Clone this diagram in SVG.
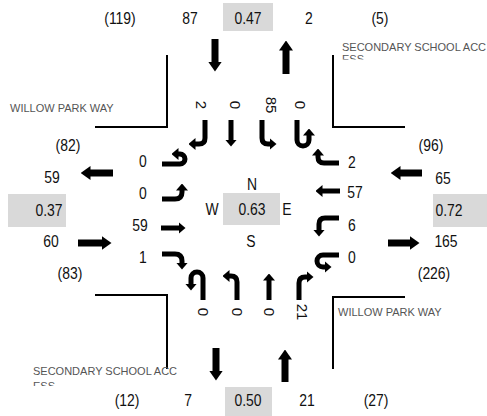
<svg xmlns="http://www.w3.org/2000/svg" width="487" height="416" viewBox="0 0 487 416">
<style>
text{font-family:"Liberation Sans",Arial,sans-serif;fill:#111}
.n{font-size:16px;text-anchor:middle;transform-box:fill-box;transform-origin:center;transform:scaleX(0.87)}
.r{font-size:15px;text-anchor:middle}
.st{font-size:11px;fill:#555}
.box{fill:#d9d9d9}
.big{fill:none;stroke:#000;stroke-width:7;marker-end:url(#bh)}
.sm{fill:none;stroke:#000;stroke-width:5;marker-end:url(#sh)}
.ln{fill:none;stroke:#000;stroke-width:2}
</style>
<defs>
<marker id="bh" markerUnits="userSpaceOnUse" viewBox="0 0 10 14" markerWidth="10" markerHeight="14" refX="0.5" refY="7" orient="auto"><path d="M0,0 L10,7 L0,14 z"/></marker>
<marker id="sh" markerUnits="userSpaceOnUse" viewBox="0 0 7 12" markerWidth="7" markerHeight="12" refX="0.5" refY="6" orient="auto"><path d="M0,0 L7,6 L0,12 z"/></marker>
<clipPath id="c1"><rect x="330" y="30" width="157" height="29.5"/></clipPath>
<clipPath id="c2"><rect x="20" y="355" width="200" height="31"/></clipPath>
</defs>

<g id="corners">
<path class="ln" d="M95,127 H167 V55"/>
<path class="ln" d="M405,127 H333 V55"/>
<path class="ln" d="M95,295 H167 V369"/>
<path class="ln" d="M405,297 H333 V369"/>
</g>

<g id="street-labels">
<text class="st" x="10" y="112">WILLOW PARK WAY</text>
<g clip-path="url(#c1)"><text class="st" x="342" y="51">SECONDARY SCHOOL ACC</text><text class="st" x="342" y="63">ESS</text></g>
<g clip-path="url(#c2)"><text class="st" x="33" y="375">SECONDARY SCHOOL ACC</text><text class="st" x="33" y="390">ESS</text></g>
<text class="st" x="338" y="316">WILLOW PARK WAY</text>
</g>

<g id="north">
<text class="n" x="120" y="24">(119)</text>
<text class="n" x="190" y="24">87</text>
<rect class="box" x="223" y="3" width="50" height="28"/>
<text class="n" x="248" y="24">0.47</text>
<text class="n" x="309" y="24">2</text>
<text class="n" x="380" y="24">(5)</text>
<g transform="translate(201,105) rotate(90)"><text class="r" x="0" y="5">2</text></g>
<g transform="translate(235,105) rotate(90)"><text class="r" x="0" y="5">0</text></g>
<g transform="translate(271,105) rotate(90)"><text class="r" x="0" y="5">85</text></g>
<g transform="translate(300,105) rotate(90)"><text class="r" x="0" y="5">0</text></g>
</g>

<g id="south">
<text class="n" x="127" y="406">(12)</text>
<text class="n" x="188" y="406">7</text>
<rect class="box" x="225" y="387" width="47" height="29"/>
<text class="n" x="248" y="406">0.50</text>
<text class="n" x="307" y="406">21</text>
<text class="n" x="376" y="406">(27)</text>
<g transform="translate(203,312) rotate(90)"><text class="r" x="0" y="5">0</text></g>
<g transform="translate(237,312) rotate(90)"><text class="r" x="0" y="5">0</text></g>
<g transform="translate(269,312) rotate(90)"><text class="r" x="0" y="5">0</text></g>
<g transform="translate(302,312) rotate(90)"><text class="r" x="0" y="5">21</text></g>
</g>

<g id="west">
<text class="n" x="68" y="151">(82)</text>
<text class="n" x="52" y="183">59</text>
<rect class="box" x="8" y="194" width="58" height="33"/>
<text class="n" x="49" y="216">0.37</text>
<text class="n" x="51" y="247">60</text>
<text class="n" x="70" y="279">(83)</text>
<text class="n" x="143" y="167">0</text>
<text class="n" x="143" y="199">0</text>
<text class="n" x="140" y="231">59</text>
<text class="n" x="143" y="263">1</text>
</g>

<g id="east">
<text class="n" x="431" y="151">(96)</text>
<text class="n" x="443" y="184">65</text>
<rect class="box" x="433" y="194" width="54" height="33"/>
<text class="n" x="449" y="216">0.72</text>
<text class="n" x="446" y="247">165</text>
<text class="n" x="434" y="279">(226)</text>
<text class="n" x="352" y="168">2</text>
<text class="n" x="355" y="198">57</text>
<text class="n" x="352" y="231">6</text>
<text class="n" x="352" y="263">0</text>
</g>

<g id="center">
<text class="n" x="252" y="190">N</text>
<rect class="box" x="223" y="193" width="57" height="32"/>
<text class="n" x="252" y="215">0.63</text>
<text class="n" x="212" y="215">W</text>
<text class="n" x="287" y="215">E</text>
<text class="n" x="251" y="247">S</text>
</g>

<g id="connectors">
<path class="big" d="M215,39 V62"/>
<path class="big" d="M286,74 V50"/>
<path class="big" d="M216,348 V371"/>
<path class="big" d="M285,382 V359"/>
<path class="big" d="M113,173 H90"/>
<path class="big" d="M78,243 H102"/>
<path class="big" d="M422,173 H400"/>
<path class="big" d="M388,243 H410"/>

<path class="sm" d="M205,120 V138 Q205,144 199,144 H195"/>
<path class="sm" d="M231,120 V140"/>
<path class="sm" d="M262,120 V138 Q262,144 268,144 H270"/>
<path class="sm" d="M297,120 V140 A6,6 0 0 0 309,140 V135"/>

<path class="sm" d="M162,164 H180 A5,5 0 0 0 180,154 H178"/>
<path class="sm" d="M162,199 H175 Q182,199 182,192 V190"/>
<path class="sm" d="M161,228 H179"/>
<path class="sm" d="M162,254 H175 Q182,254 182,261 V263"/>

<path class="sm" d="M339,163 H324 Q318,163 318,157 V155"/>
<path class="sm" d="M340,191 H322"/>
<path class="sm" d="M339,218 H325 Q319,218 319,224 V230"/>
<path class="sm" d="M339,255 H323 A6,6 0 0 0 323,267 H325"/>

<path class="sm" d="M203,300 V278 A6,6 0 0 0 191,278 V284"/>
<path class="sm" d="M237,300 V282 Q237,276 231,276 H229"/>
<path class="sm" d="M269,300 V280"/>
<path class="sm" d="M299,300 V283 Q299,277 305,277 H307"/>
</g>
</svg>
